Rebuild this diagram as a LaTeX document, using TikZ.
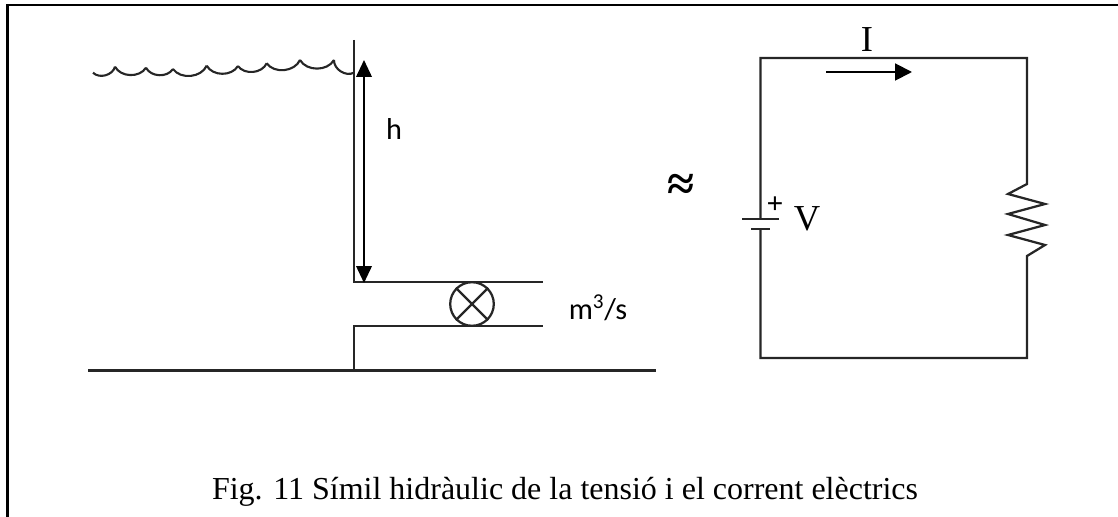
\documentclass[tikz,border=0pt]{standalone}
\usepackage{fontspec}
\setmainfont{Liberation Serif}
\newfontfamily\labelfont{Carlito}
\usetikzlibrary{arrows.meta}
\usetikzlibrary{positioning}

\tikzset{
    wire/.style={line width=1.6pt,draw=black!85},
    frameline/.style={line width=1.9pt,draw=black},
    flow/.style={line width=1.4pt,{Triangle[length=12pt,width=11pt]}-{Triangle[length=12pt,width=11pt]}},
    flowright/.style={line width=1.4pt,-{Triangle[length=12pt,width=12pt]}},
    sanslabel/.style={inner sep=0pt,font=\labelfont\fontsize{21.5}{24}\selectfont},
    seriflabel/.style={inner sep=0pt,font=\fontsize{26}{28}\selectfont}
}

\begin{document}
\begin{tikzpicture}[x=0.025cm,y=-0.025cm]
        \useasboundingbox (0,0) rectangle (1118,517);

        %% Frame
        \coordinate (framebl) at (7.5,517);
        \coordinate (frametl) at (7.5,5);
        \coordinate (frametr) at (1118,5);
        \draw[frameline] (framebl) -- (frametl) -- (frametr);

        %% Water level
        \coordinate (wave0) at (93,72.7);
        \coordinate (wave1) at (115,66.7);
        \coordinate (wave2) at (146,67.7);
        \coordinate (wave3) at (173,69);
        \coordinate (wave4) at (206.7,65.7);
        \coordinate (wave5) at (238,66);
        \coordinate (wave6) at (266.7,63.3);
        \coordinate (wave7) at (300,60);
        \coordinate (wave8) at (334,60);
        \coordinate (wave9) at (354,72.7);
        \foreach \a/\b in {0/1,1/2,2/3,3/4,4/5,5/6,6/7,7/8,8/9}
            \draw[wire,line width=1.5pt] (wave\a) to[bend right=60] (wave\b);

        %% Tank and pipe
        \coordinate (walltop) at (354,40);
        \coordinate (pipetl) at (354,282);
        \coordinate (pipetr) at (543,282);
        \coordinate (pipebl) at (354,326);
        \coordinate (pipebr) at (543,326);
        \coordinate (wallfoot) at (354,370.5);
        \coordinate (groundl) at (88,370.5);
        \coordinate (groundr) at (656,370.5);
        \draw[wire] (walltop) -- (pipetl) -- (pipetr);
        \draw[wire] (wallfoot) -- (pipebl) -- (pipebr);
        \draw[wire] (groundl) -- (groundr);

        \node[draw,wire,circle,inner sep=0pt,minimum size=31pt] (valve) at (472,304) {};
        \draw[wire] (valve.45) -- (valve.225);
        \draw[wire] (valve.135) -- (valve.315);

        \coordinate (htop) at (364,60);
        \coordinate (hbot) at (364,283);
        \draw[flow] (htop) -- (hbot);

        \node[sanslabel] (h) at (394,129) {h};
        \node[sanslabel] (flowrate) at (598,308) {m\textsuperscript{3}/s};

        \node[inner sep=0pt,font=\bfseries\fontsize{35}{35}\selectfont] (approx) at (681,187) {≈};

        %% Circuit
        \coordinate (cirtl) at (760.5,58);
        \coordinate (cirtr) at (1027,58);
        \coordinate (cirbl) at (760.5,358);
        \coordinate (cirbr) at (1027,358);
        \coordinate (platelongl) at (742,219);
        \coordinate (platelongr) at (779,219);
        \coordinate (plateshortl) at (751,229);
        \coordinate (plateshortr) at (770,229);
        \coordinate (platelongm) at (760.5,219);
        \coordinate (plateshortm) at (760.5,229);
        \draw[wire] (platelongm) -- (cirtl) -- (cirtr) -- (1027,184) -- (1008,194) -- (1045,204) -- (1008,214) -- (1045,225) -- (1008,235) -- (1045,245) -- (1027,256) -- (cirbr) -- (cirbl) -- (plateshortm);
        \draw[wire] (platelongl) -- (platelongr);
        \draw[wire] (plateshortl) -- (plateshortr);

        \node[inner sep=0pt,font=\bfseries\fontsize{21}{21}\selectfont] (plus) at (775,205) {+};
        \node[seriflabel] (volt) at (807,219) {V};
        \node[seriflabel] (curr) at (867,40) {I};

        \coordinate (currl) at (826,72);
        \coordinate (currr) at (912,72);
        \draw[flowright] (currl) -- (currr);

        %% Caption
        \node[inner sep=0pt,font=\fontsize{22.75}{26}\selectfont] (caption) at (565,492) {Fig. 11 Símil hidràulic de la tensió i el corrent elèctrics};
\end{tikzpicture}
\end{document}
